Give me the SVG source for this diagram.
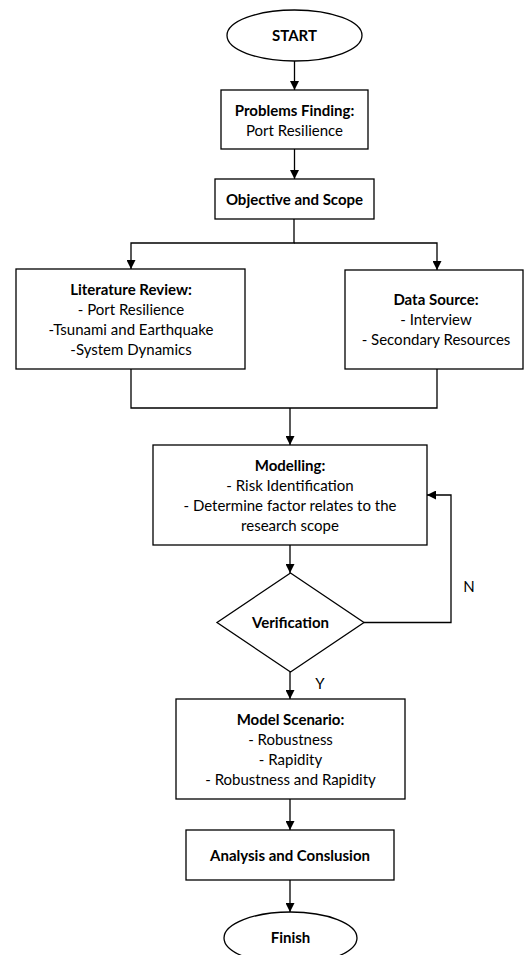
<svg xmlns="http://www.w3.org/2000/svg" width="526" height="955" viewBox="0 0 526 955">
<defs>
<marker id="arr" viewBox="0 0 10 10" refX="10" refY="5" markerWidth="9" markerHeight="9" markerUnits="userSpaceOnUse" orient="auto">
<path d="M0,0 L10,5 L0,10 z" fill="#000"/>
</marker>
<style>
.s{fill:#fff;stroke:#000;stroke-width:1.3}
.c{fill:none;stroke:#000;stroke-width:1.3}
text{font-family:Lato,"Liberation Sans",sans-serif;font-size:15px;fill:#000;text-anchor:middle}
.b{font-weight:bold}
</style>
</defs>
<rect width="526" height="955" fill="#fff"/>
<g id="connectors">
<path class="c" d="M294.5,61 V90" marker-end="url(#arr)"/>
<path class="c" d="M294.5,149 V179" marker-end="url(#arr)"/>
<path class="c" d="M294,219 V243 H131 V269" marker-end="url(#arr)"/>
<path class="c" d="M294,243 H437 V270" marker-end="url(#arr)"/>
<path class="c" d="M131,369 V408 H437 V369"/>
<path class="c" d="M290,408 V445" marker-end="url(#arr)"/>
<path class="c" d="M290,545 V573" marker-end="url(#arr)"/>
<path class="c" d="M364,622.5 H451 V495 H427" marker-end="url(#arr)"/>
<path class="c" d="M290,672 V699" marker-end="url(#arr)"/>
<path class="c" d="M290,799 V830" marker-end="url(#arr)"/>
<path class="c" d="M290,880 V912" marker-end="url(#arr)"/>
<text x="469" y="592">N</text>
<text x="320" y="689">Y</text>
</g>
<g id="start">
<ellipse class="s" cx="294.5" cy="35.5" rx="67.5" ry="25.5"/>
<text class="b" x="294.5" y="40.5">START</text>
</g>
<g id="problems">
<rect class="s" x="221" y="90" width="147" height="59"/>
<text class="b" x="294.5" y="116">Problems Finding:</text>
<text x="294.5" y="136">Port Resilience</text>
</g>
<g id="objective">
<rect class="s" x="215" y="179" width="159" height="40"/>
<text class="b" x="294.5" y="204.5">Objective and Scope</text>
</g>
<g id="literature">
<rect class="s" x="16" y="269" width="229" height="100"/>
<text class="b" x="131" y="295">Literature Review:</text>
<text x="131" y="315">- Port Resilience</text>
<text x="131" y="335">-Tsunami and Earthquake</text>
<text x="131" y="355">-System Dynamics</text>
</g>
<g id="datasource">
<rect class="s" x="345" y="270" width="178" height="99"/>
<text class="b" x="436" y="305">Data Source:</text>
<text x="436" y="325">- Interview</text>
<text x="436" y="345">- Secondary Resources</text>
</g>
<g id="modelling">
<rect class="s" x="153" y="445" width="274" height="100"/>
<text class="b" x="290" y="471">Modelling:</text>
<text x="290" y="491">- Risk Identification</text>
<text x="290" y="511">- Determine factor relates to the</text>
<text x="290" y="531">research scope</text>
</g>
<g id="verification">
<polygon class="s" points="290.5,573 364,622.5 290.5,672 217,622.5"/>
<text class="b" x="290.5" y="628">Verification</text>
</g>
<g id="scenario">
<rect class="s" x="176" y="699" width="229" height="100"/>
<text class="b" x="290.5" y="725">Model Scenario:</text>
<text x="290.5" y="745">- Robustness</text>
<text x="290.5" y="765">- Rapidity</text>
<text x="290.5" y="785">- Robustness and Rapidity</text>
</g>
<g id="analysis">
<rect class="s" x="186" y="830" width="208" height="50"/>
<text class="b" x="290" y="861">Analysis and Conslusion</text>
</g>
<g id="finish">
<ellipse class="s" cx="290.5" cy="938" rx="66.5" ry="26"/>
<text class="b" x="290.5" y="943">Finish</text>
</g>
</svg>
